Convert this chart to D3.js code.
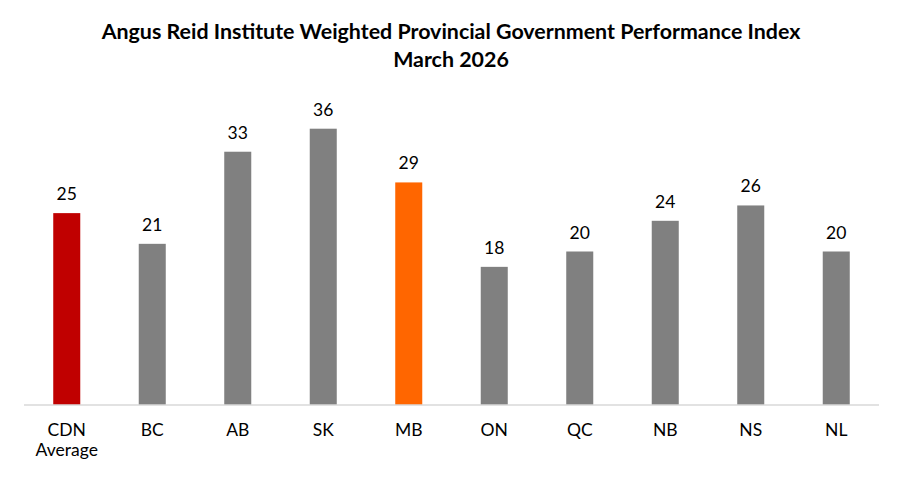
<!DOCTYPE html>
<html><head><meta charset="utf-8">
<script src="https://cdn.jsdelivr.net/npm/d3@7"></script>
<style>body{margin:0;background:#fff}svg{display:block}</style>
</head><body>
<svg id="chart" width="902" height="477"></svg>
<script>
const categories = [["CDN","Average"],["BC"],["AB"],["SK"],["MB"],["ON"],["QC"],["NB"],["NS"],["NL"]];
const values = [25,21,33,36,29,18,20,24,26,20];
const colors = ["#C00000","#808080","#808080","#808080","#FF6600","#808080","#808080","#808080","#808080","#808080"];
const titleLines = ["Angus Reid Institute Weighted Provincial Government Performance Index","March 2026"];

const svg = d3.select("#chart");
const font = "Lato, 'Open Sans', sans-serif";
const x = d3.scaleBand().domain(categories.map((d,i)=>i)).range([24,879]).paddingInner(0.684).paddingOuter(0.342);
const y = d3.scaleLinear().domain([0,40]).range([405,98]);

svg.append("g").selectAll("text").data(titleLines).join("text")
  .attr("x",451).attr("y",(d,i)=>39+i*28).attr("text-anchor","middle")
  .attr("font-family",font).attr("font-weight","bold").attr("font-size",21.4).attr("fill","#000").text(d=>d);

svg.append("g").selectAll("rect").data(values).join("rect")
  .attr("x",(d,i)=>x(i)).attr("width",x.bandwidth())
  .attr("y",d=>y(d)).attr("height",d=>y(0)-y(d)).attr("fill",(d,i)=>colors[i]);

svg.append("line").attr("x1",24).attr("x2",879).attr("y1",y(0)).attr("y2",y(0))
  .attr("stroke","#D9D9D9").attr("stroke-width",1.5);

svg.append("g").selectAll("text").data(values).join("text")
  .attr("x",(d,i)=>x(i)+x.bandwidth()/2).attr("y",d=>y(d)-13).attr("text-anchor","middle")
  .attr("font-family",font).attr("font-size",17.5).attr("fill","#000").text(d=>d);

const cl = svg.append("g").selectAll("text").data(categories).join("text")
  .attr("x",(d,i)=>x(i)+x.bandwidth()/2).attr("y",436).attr("text-anchor","middle")
  .attr("font-family",font).attr("font-size",17.5).attr("fill","#000");
cl.selectAll("tspan").data(d=>d).join("tspan")
  .attr("x",function(){return this.parentNode.getAttribute("x");})
  .attr("dy",(d,i)=>i===0?0:20).text(d=>d);
</script>
</body></html>
